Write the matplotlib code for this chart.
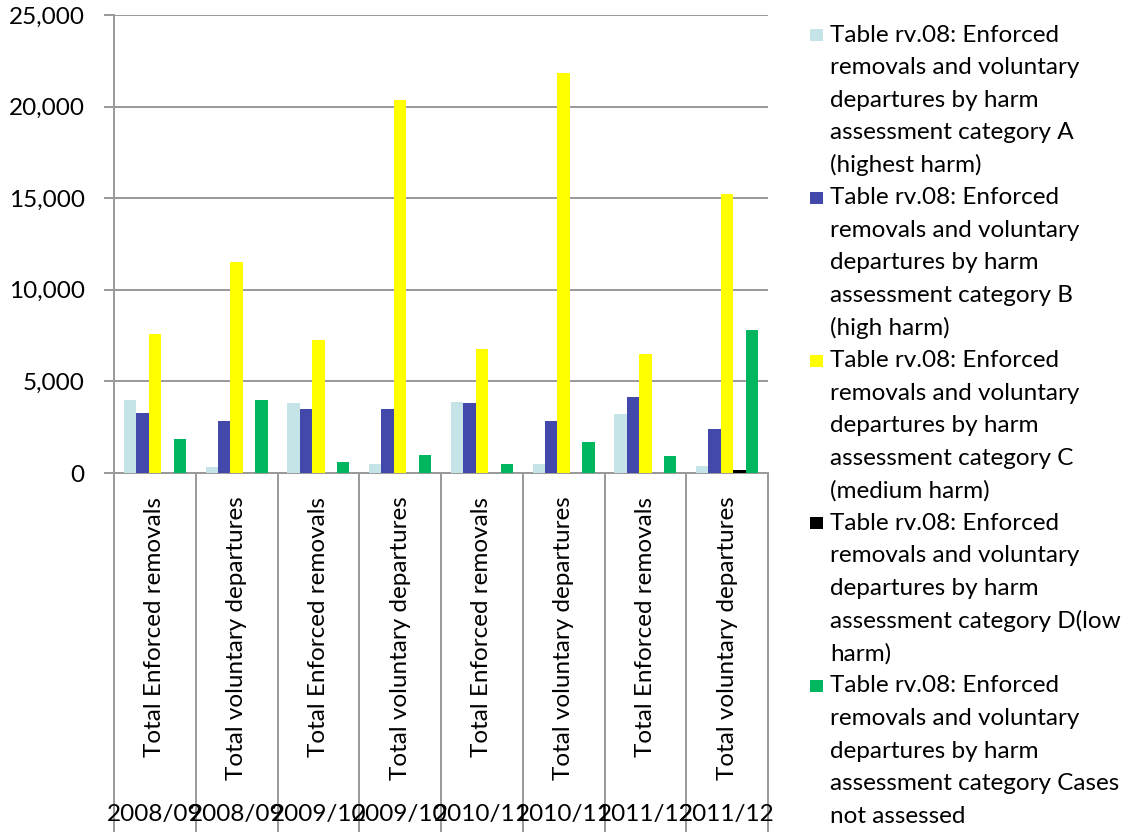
import matplotlib
matplotlib.use("Agg")
import matplotlib.pyplot as plt
import matplotlib.transforms as mtransforms
from matplotlib.patches import Rectangle
from matplotlib.ticker import FuncFormatter
import numpy as np

plt.rcParams['font.family'] = ['Lato', 'DejaVu Sans']

# ---- data -----------------------------------------------------------------
years = ["2008/09", "2008/09", "2009/10", "2009/10",
         "2010/11", "2010/11", "2011/12", "2011/12"]
measures = ["Total Enforced removals", "Total voluntary departures"] * 4

cat_a = [3990, 330, 3840, 510, 3880, 470, 3220, 360]
cat_b = [3290, 2860, 3490, 3490, 3840, 2860, 4130, 2380]
cat_c = [7570, 11530, 7240, 20360, 6770, 21830, 6480, 15250]
cat_d = [0, 0, 0, 0, 0, 0, 0, 180]
not_assessed = [1870, 3990, 580, 980, 470, 1670, 910, 7820]

series_labels = [
    "Table rv.08: Enforced\nremovals and voluntary\ndepartures by harm\nassessment category A\n(highest harm)",
    "Table rv.08: Enforced\nremovals and voluntary\ndepartures by harm\nassessment category B\n(high harm)",
    "Table rv.08: Enforced\nremovals and voluntary\ndepartures by harm\nassessment category C\n(medium harm)",
    "Table rv.08: Enforced\nremovals and voluntary\ndepartures by harm\nassessment category D(low\nharm)",
    "Table rv.08: Enforced\nremovals and voluntary\ndepartures by harm\nassessment category Cases\nnot assessed",
]
series = [cat_a, cat_b, cat_c, cat_d, not_assessed]
colors = ["#C4E4E7", "#4349AB", "#FFFF00", "#000000", "#00B75F"]

# ---- figure ---------------------------------------------------------------
W, H, DPI = 1140, 832, 100
fig = plt.figure(figsize=(W / DPI, H / DPI), dpi=DPI)
ax = fig.add_axes([114 / W, 1 - 473 / H, (768 - 114) / W, (473 - 15) / H])

FS = 17.5
grid_c = "#999999"
x = np.arange(len(years))
bw = 0.152
for k, (vals, c) in enumerate(zip(series, colors)):
    ax.bar(x + (k - 2) * bw, vals, width=bw, color=c, zorder=3)

ax.set_xlim(-0.5, len(years) - 0.5)
ax.set_ylim(0, 25000)
ax.set_yticks(range(0, 25001, 5000))
ax.yaxis.set_major_formatter(FuncFormatter(lambda v, p: f"{int(v):,}"))
ax.grid(axis="y", color=grid_c, linewidth=1.4, zorder=0)
ax.tick_params(axis="y", length=7, width=1.4, color=grid_c, pad=14,
               labelsize=FS, labelcolor="black")

for side in ("top", "right"):
    ax.spines[side].set_visible(False)
for side in ("left", "bottom"):
    ax.spines[side].set_color(grid_c)
    ax.spines[side].set_linewidth(1.4)

# inner category labels, rotated
ax.set_xticks(x)
ax.set_xticklabels(measures, rotation=90, fontsize=FS)
ax.tick_params(axis="x", length=0, pad=17)

# group separators running down through the label area
axh = 473 - 15
bottom_frac = -(H - 473) / axh
ax.vlines(np.arange(len(years) + 1) - 0.5, bottom_frac, 0,
          transform=ax.get_xaxis_transform(), colors=grid_c,
          linewidth=1.4, clip_on=False)

# outer category labels (years)
for xi, yr in zip(x, years):
    ax.text(xi, -(815 - 473) / axh, yr, transform=ax.get_xaxis_transform(),
            ha="center", va="center", fontsize=FS)

# legend
pitch = 32.55
for i, (lab, c) in enumerate(zip(series_labels, colors)):
    y0 = 35 + i * 5 * pitch
    fig.patches.append(Rectangle((810 / W, 1 - (y0 + 6) / H), 13 / W, 12 / H,
                                 transform=fig.transFigure, facecolor=c,
                                 edgecolor="none"))
    for j, line in enumerate(lab.split("\n")):
        fig.text(830 / W, 1 - (y0 + j * pitch) / H, line, ha="left",
                 va="center", fontsize=FS)

fig.savefig("out.png", dpi=DPI)
